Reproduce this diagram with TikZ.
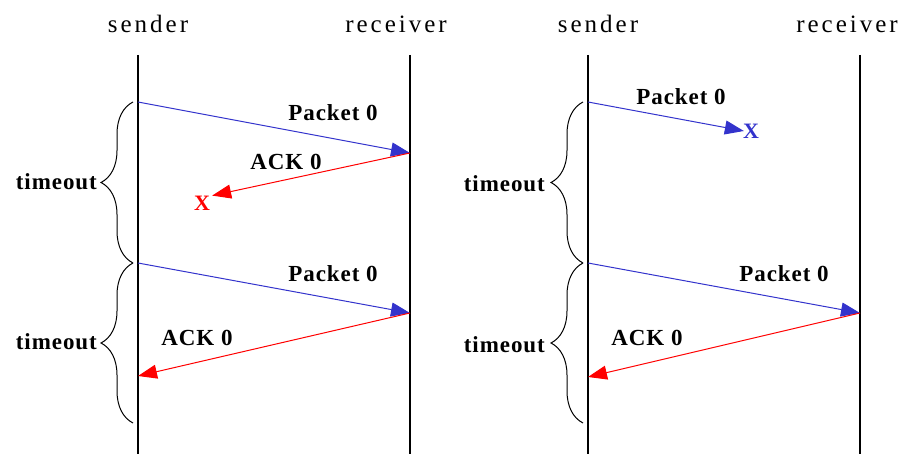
\documentclass[tikz,border=0pt]{standalone}
\usepackage{fontspec}
\setmainfont{Liberation Serif}
\newfontfamily\headfont[LetterSpace=12]{Liberation Serif}
\newfontfamily\lblfont[LetterSpace=4]{Liberation Serif}
\usepackage{tikz}
\usetikzlibrary{arrows.meta,decorations.pathreplacing}
\definecolor{pktblue}{RGB}{51,51,204}
\definecolor{ackred}{RGB}{255,0,0}

\begin{document}
\begin{tikzpicture}[x=1pt, y=-1pt,
	head/.style={font=\headfont\fontsize{25}{25}\selectfont, inner sep=0pt},
	lbl/.style={font=\lblfont\bfseries\fontsize{23}{23}\selectfont, inner sep=0pt},
	lostx/.style={font=\bfseries\fontsize{22}{22}\selectfont, inner sep=0pt},
	timeline/.style={line width=1.4pt},
	pkt/.style={color=pktblue, line width=1pt, -{Triangle[length=19pt, width=14pt]}},
	ack/.style={color=ackred, line width=1pt, -{Triangle[length=19pt, width=14pt]}},
	tobrace/.style={decorate, decoration={brace, amplitude=32pt}, line width=1pt}]
	\useasboundingbox (0,0) rectangle (903,454);
% draw sender and receiver headings
	\node[head] (snd1) at (148,24) {sender};
	\node[head] (rcv1) at (396,24) {receiver};
	\node[head] (snd2) at (598,24) {sender};
	\node[head] (rcv2) at (847,24) {receiver};
% draw time lines
	\coordinate (s1top) at (138,55);	\coordinate (s1bot) at (138,454);
	\coordinate (r1top) at (410,55);	\coordinate (r1bot) at (410,454);
	\coordinate (s2top) at (588,55);	\coordinate (s2bot) at (588,454);
	\coordinate (r2top) at (860,55);	\coordinate (r2bot) at (860,454);
	\draw[timeline] (s1top) -- (s1bot);
	\draw[timeline] (r1top) -- (r1bot);
	\draw[timeline] (s2top) -- (s2bot);
	\draw[timeline] (r2top) -- (r2bot);
% left: lost ACK
	\coordinate (s1a) at (138,102);	\coordinate (r1a) at (410,153);
	\coordinate (s1b) at (138,263);	\coordinate (r1b) at (410,313);
	\coordinate (s1c) at (138,376);	\coordinate (s1d) at (138,423);
	\node[lostx, ackred] (x1) at (202,203) {X};
	\draw[pkt] (s1a) -- (r1a);
	\draw[ack] (r1a) -- ([xshift=2pt]x1.north east);
	\node[lbl] (p1a) at (333,113) {Packet 0};
	\node[lbl] (a1a) at (286,162) {ACK 0};
	\draw[pkt] (s1b) -- (r1b);
	\draw[ack] (r1b) -- (s1c);
	\node[lbl] (p1b) at (333,274) {Packet 0};
	\node[lbl] (a1b) at (197,338) {ACK 0};
	\draw[tobrace] ([xshift=-5pt]s1b) -- ([xshift=-5pt]s1a);
	\draw[tobrace] ([xshift=-5pt]s1d) -- ([xshift=-5pt]s1b);
	\node[lbl, anchor=east] (t1a) at (97,182) {timeout};
	\node[lbl, anchor=east] (t1b) at (97,342) {timeout};
% right: lost packet
	\coordinate (s2a) at (588,102);
	\coordinate (s2b) at (588,263);	\coordinate (r2b) at (860,313);
	\coordinate (s2c) at (588,377);	\coordinate (s2d) at (588,423);
	\node[lostx, pktblue] (x2) at (751,131) {X};
	\draw[pkt] (s2a) -- ([xshift=1pt]x2.west);
	\node[lbl] (p2a) at (681,97) {Packet 0};
	\draw[pkt] (s2b) -- (r2b);
	\draw[ack] (r2b) -- (s2c);
	\node[lbl] (p2b) at (784,274) {Packet 0};
	\node[lbl] (a2b) at (647,338) {ACK 0};
	\draw[tobrace] ([xshift=-5pt]s2b) -- ([xshift=-5pt]s2a);
	\draw[tobrace] ([xshift=-5pt]s2d) -- ([xshift=-5pt]s2b);
	\node[lbl, anchor=east] (t2a) at (545,184) {timeout};
	\node[lbl, anchor=east] (t2b) at (545,345) {timeout};
\end{tikzpicture}
\end{document}
